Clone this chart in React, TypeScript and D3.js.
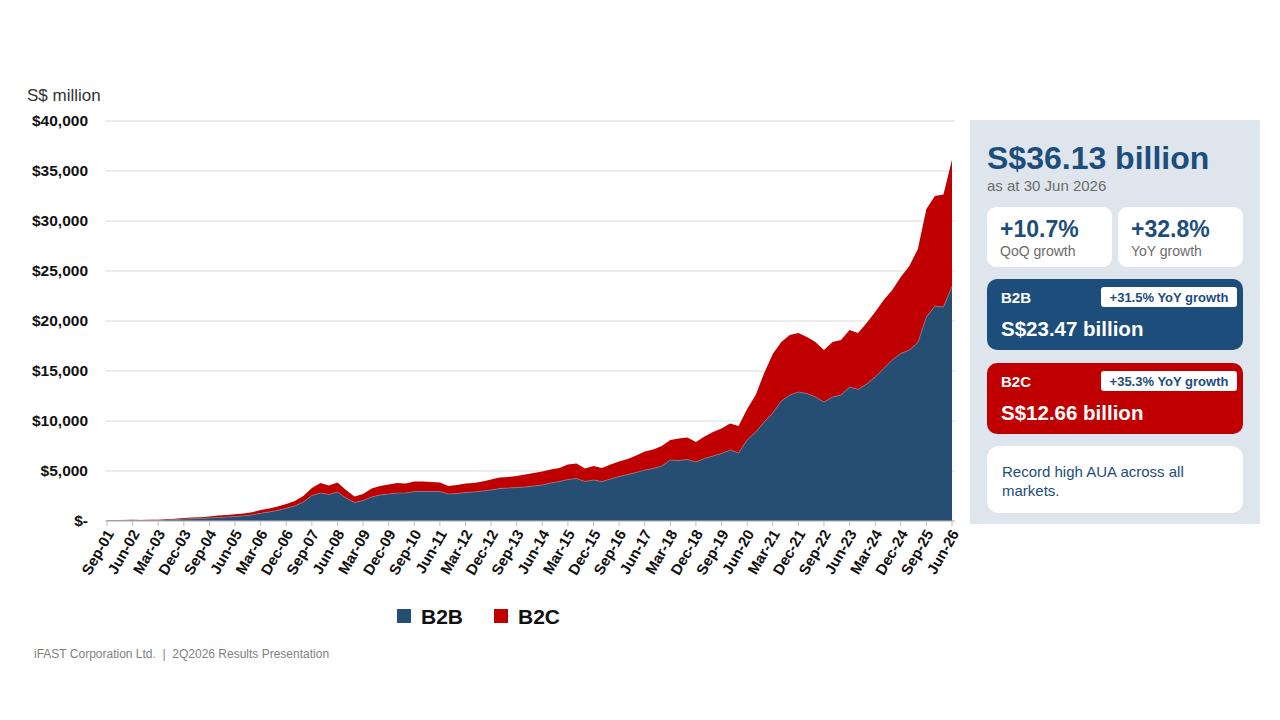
import { useEffect, useRef } from 'react';
import * as d3 from 'd3';

// Quarter-end AUA in S$ million, Sep-01 .. Jun-26
const quarterLabels = d3
  .range(100)
  .map((i) => d3.timeFormat('%b-%y')(d3.timeMonth.offset(new Date(2001, 8, 1), i * 3)));

const b2bValues = [
  30, 50, 60, 70, 60, 70, 70, 110, 150, 190,
  220, 250, 300, 350, 390, 440, 510, 610, 770, 900,
  1060, 1270, 1500, 1900, 2550, 2800, 2650, 2900, 2300, 1850,
  2050, 2400, 2600, 2700, 2800, 2800, 2950, 2950, 2950, 2950,
  2700, 2750, 2850, 2900, 3000, 3100, 3250, 3300, 3350, 3400,
  3500, 3600, 3800, 3950, 4150, 4250, 3950, 4100, 3950, 4200,
  4450, 4650, 4850, 5100, 5250, 5500, 6100, 6050, 6150, 5900,
  6250, 6500, 6750, 7100, 6800, 8100, 8900, 9900, 10800, 12000,
  12600, 12900, 12750, 12400, 11900, 12400, 12600, 13400, 13150, 13700,
  14400, 15250, 16100, 16750, 17100, 17850, 20400, 21500, 21400, 23470,
];

const b2cValues = [
  30, 40, 50, 50, 50, 50, 50, 60, 70, 100,
  120, 130, 160, 190, 210, 230, 250, 270, 330, 350,
  390, 430, 500, 600, 750, 1000, 900, 950, 800, 600,
  650, 850, 900, 950, 1000, 950, 1000, 1000, 950, 900,
  800, 850, 900, 900, 950, 1050, 1100, 1100, 1150, 1250,
  1300, 1350, 1350, 1350, 1500, 1500, 1300, 1400, 1350, 1450,
  1500, 1550, 1700, 1850, 1900, 2000, 2000, 2200, 2200, 2000,
  2200, 2400, 2500, 2650, 2700, 3100, 3700, 4900, 5900, 5900,
  6000, 5900, 5650, 5500, 5200, 5500, 5500, 5700, 5650, 6100,
  6500, 6850, 7000, 7650, 8400, 9350, 10800, 11000, 11240, 12660,
];

const yTicks = [0, 5000, 10000, 15000, 20000, 25000, 30000, 35000, 40000];
const seriesKeys = ['B2B', 'B2C'];
const seriesColors = ['#264e73', '#c00000'];

const headline = 'S$36.13 billion';
const headlineDate = 'as at 30 Jun 2026';
const growthCards = [
  { value: '+10.7%', label: 'QoQ growth' },
  { value: '+32.8%', label: 'YoY growth' },
];
const segmentCards = [
  { name: 'B2B', badge: '+31.5% YoY growth', total: 'S$23.47 billion', color: '#1c4d7b' },
  { name: 'B2C', badge: '+35.3% YoY growth', total: 'S$12.66 billion', color: '#c00000' },
];
const noteLines = ['Record high AUA across all', 'markets.'];

const FONT = "'Liberation Sans', Arial, sans-serif";
const NAVY = '#1c4d7b';

export default function App() {
  const svgRef = useRef<SVGSVGElement>(null);

  const drawChart = (svgNode: SVGSVGElement) => {
    const svg = d3.select(svgNode);
    svg.selectAll('*').remove();
    svg.style('font-family', FONT);

    const x = d3.scaleLinear().domain([0, quarterLabels.length - 1]).range([107, 952]);
    const y = d3.scaleLinear().domain([0, 40000]).range([521, 121]);

    // unit label
    svg
      .append('text')
      .attr('x', 27)
      .attr('y', 101)
      .attr('font-size', 17)
      .attr('fill', '#333')
      .text('S$ million');

    // gridlines + y labels
    const yAxis = svg.append('g');
    yAxis
      .selectAll('line')
      .data(yTicks)
      .enter()
      .append('line')
      .attr('x1', 105)
      .attr('x2', 955)
      .attr('y1', (d) => y(d))
      .attr('y2', (d) => y(d))
      .attr('stroke', '#d9d9d9')
      .attr('stroke-width', 1.2);
    yAxis
      .selectAll('text')
      .data(yTicks)
      .enter()
      .append('text')
      .attr('x', 88)
      .attr('y', (d) => y(d))
      .attr('dy', '0.35em')
      .attr('text-anchor', 'end')
      .attr('font-size', 15.5)
      .attr('font-weight', 'bold')
      .attr('fill', '#111')
      .text((d) => (d === 0 ? '$-' : d3.format('$,')(d)));

    // stacked areas
    const table = quarterLabels.map((label, i) => ({ label, B2B: b2bValues[i], B2C: b2cValues[i] }));
    const stacked = d3.stack<any>().keys(seriesKeys)(table);
    const area = d3
      .area<any>()
      .x((_, i) => x(i))
      .y0((d) => y(d[0]))
      .y1((d) => y(d[1]));

    svg
      .append('g')
      .selectAll('path')
      .data(stacked)
      .enter()
      .append('path')
      .attr('d', area)
      .attr('fill', (_, i) => seriesColors[i]);

    // faint seam between the two layers
    svg
      .append('path')
      .attr(
        'd',
        d3
          .line<any>()
          .x((_, i) => x(i))
          .y((d) => y(d[1]))(stacked[0])
      )
      .attr('fill', 'none')
      .attr('stroke', '#8e7f8c')
      .attr('stroke-width', 0.7);

    // x axis ticks every 9 months
    const tickIdx = d3.range(0, quarterLabels.length, 3);
    const xAxis = svg.append('g');
    xAxis
      .append('line')
      .attr('x1', 105)
      .attr('x2', 955)
      .attr('y1', 521)
      .attr('y2', 521)
      .attr('stroke', '#bfbfbf');
    xAxis
      .selectAll('line.tick')
      .data(tickIdx)
      .enter()
      .append('line')
      .attr('class', 'tick')
      .attr('x1', (d) => x(d))
      .attr('x2', (d) => x(d))
      .attr('y1', 521)
      .attr('y2', 526)
      .attr('stroke', '#bfbfbf');
    xAxis
      .selectAll('text')
      .data(tickIdx)
      .enter()
      .append('text')
      .attr('transform', (d) => `translate(${x(d) + 3},${531}) rotate(-60)`)
      .attr('dy', '0.35em')
      .attr('text-anchor', 'end')
      .attr('font-size', 15)
      .attr('font-weight', 'bold')
      .attr('fill', '#111')
      .text((d) => quarterLabels[d]);

    // legend
    const legend = svg
      .append('g')
      .selectAll('g')
      .data(seriesKeys)
      .enter()
      .append('g')
      .attr('transform', (_, i) => `translate(${397 + i * 97},609)`);
    legend
      .append('rect')
      .attr('width', 14)
      .attr('height', 14)
      .attr('fill', (_, i) => seriesColors[i]);
    legend
      .append('text')
      .attr('x', 24)
      .attr('y', 15)
      .attr('font-size', 21)
      .attr('font-weight', 'bold')
      .attr('fill', '#111')
      .text((d) => d);

    // footer
    svg
      .append('text')
      .attr('x', 34)
      .attr('y', 658)
      .attr('font-size', 12)
      .attr('fill', '#7f7f7f')
      .attr('xml:space', 'preserve')
      .text('iFAST Corporation Ltd.  |  2Q2026 Results Presentation');

    drawPanel(svg);
  };

  const drawPanel = (svg: d3.Selection<SVGSVGElement, unknown, null, undefined>) => {
    const panel = svg.append('g');
    panel
      .append('rect')
      .attr('x', 970)
      .attr('y', 120)
      .attr('width', 290)
      .attr('height', 404)
      .attr('fill', '#dfe5ed');

    panel
      .append('text')
      .attr('x', 987)
      .attr('y', 169)
      .attr('font-size', 32)
      .attr('font-weight', 'bold')
      .attr('fill', NAVY)
      .text(headline);
    panel
      .append('text')
      .attr('x', 987)
      .attr('y', 191)
      .attr('font-size', 15)
      .attr('fill', '#6b6b6b')
      .text(headlineDate);

    const cards = panel
      .selectAll('g.growth')
      .data(growthCards)
      .enter()
      .append('g')
      .attr('transform', (_, i) => `translate(${987 + i * 131},207)`);
    cards
      .append('rect')
      .attr('width', 125)
      .attr('height', 60)
      .attr('rx', 9)
      .attr('fill', '#fff');
    cards
      .append('text')
      .attr('x', 13)
      .attr('y', 30)
      .attr('font-size', 23)
      .attr('font-weight', 'bold')
      .attr('fill', NAVY)
      .text((d) => d.value);
    cards
      .append('text')
      .attr('x', 13)
      .attr('y', 49)
      .attr('font-size', 14)
      .attr('fill', '#6b6b6b')
      .text((d) => d.label);

    const segs = panel
      .selectAll('g.segment')
      .data(segmentCards)
      .enter()
      .append('g')
      .attr('transform', (_, i) => `translate(987,${279 + i * 84})`);
    segs
      .append('rect')
      .attr('width', 256)
      .attr('height', 71)
      .attr('rx', 10)
      .attr('fill', (d) => d.color);
    segs
      .append('text')
      .attr('x', 14)
      .attr('y', 24)
      .attr('font-size', 15)
      .attr('font-weight', 'bold')
      .attr('fill', '#fff')
      .text((d) => d.name);
    segs
      .append('rect')
      .attr('x', 114)
      .attr('y', 8)
      .attr('width', 136)
      .attr('height', 20)
      .attr('rx', 3)
      .attr('fill', '#fff');
    segs
      .append('text')
      .attr('x', 182)
      .attr('y', 23)
      .attr('text-anchor', 'middle')
      .attr('font-size', 13)
      .attr('font-weight', 'bold')
      .attr('fill', NAVY)
      .text((d) => d.badge);
    segs
      .append('text')
      .attr('x', 14)
      .attr('y', 57)
      .attr('font-size', 20.5)
      .attr('font-weight', 'bold')
      .attr('fill', '#fff')
      .text((d) => d.total);

    panel
      .append('rect')
      .attr('x', 987)
      .attr('y', 446)
      .attr('width', 256)
      .attr('height', 67)
      .attr('rx', 12)
      .attr('fill', '#fff');
    panel
      .append('g')
      .selectAll('text')
      .data(noteLines)
      .enter()
      .append('text')
      .attr('x', 1002)
      .attr('y', (_, i) => 477 + i * 19)
      .attr('font-size', 15)
      .attr('fill', NAVY)
      .text((d) => d);
  };

  useEffect(() => {
    if (svgRef.current) drawChart(svgRef.current);
  }, []);

  return (
    <svg
      ref={svgRef}
      width={1280}
      height={720}
      style={{ position: 'absolute', left: 0, top: 0, background: '#fff' }}
    />
  );
}
